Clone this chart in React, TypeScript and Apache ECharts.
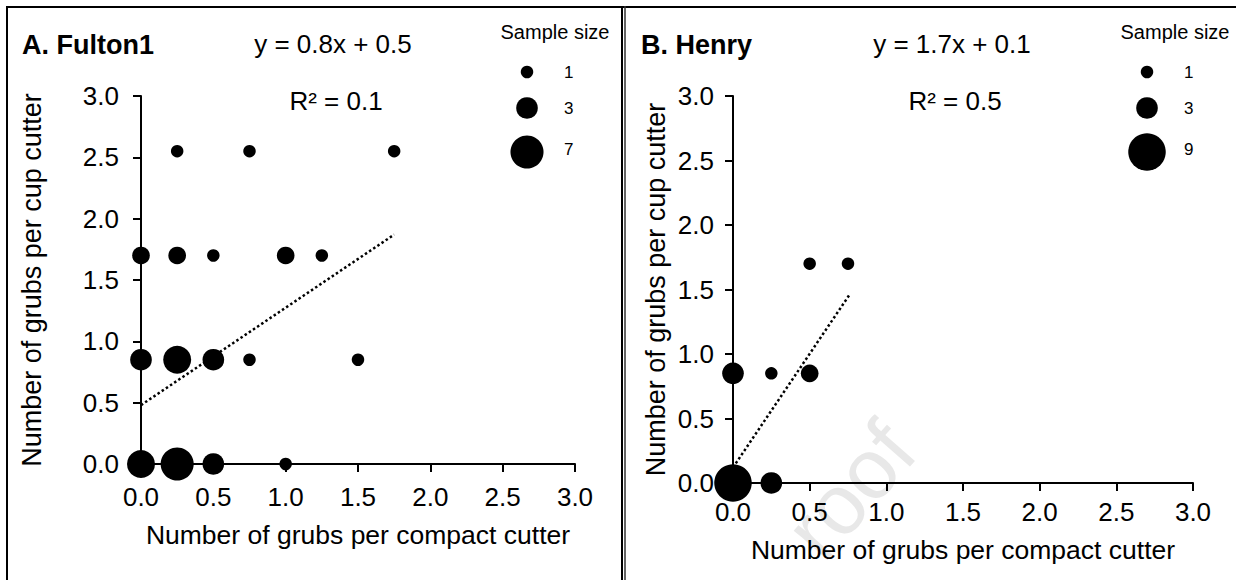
import React, { useEffect, useRef } from "react";
import * as echarts from "echarts";

// ---- data ----
const tickValues = [0, 0.5, 1, 1.5, 2, 2.5, 3];

const fultonX = [0.25, 0.75, 1.75, 0, 0.25, 0.5, 1.0, 1.25, 0, 0.25, 0.5, 0.75, 1.5, 0, 0.25, 0.5, 1.0];
const fultonY = [2.55, 2.55, 2.55, 1.7, 1.7, 1.7, 1.7, 1.7, 0.85, 0.85, 0.85, 0.85, 0.85, 0, 0, 0, 0];
const fultonN = [1, 1, 1, 2, 2, 1, 2, 1, 3, 5, 3, 1, 1, 5, 7, 3, 1];
const fultonTrend = [[0, 0.48], [1.75, 1.87]];
const fultonLegend = [1, 3, 7];

const henryX = [0.5, 0.75, 0, 0.25, 0.5, 0, 0.25];
const henryY = [1.7, 1.7, 0.85, 0.85, 0.85, 0, 0];
const henryN = [1, 1, 3, 1, 2, 9, 3];
const henryTrend = [[0, 0.12], [0.76, 1.46]];
const henryLegend = [1, 3, 9];

const panelTitles = ["A. Fulton1", "B. Henry"];
const equations = ["y = 0.8x + 0.5", "y = 1.7x + 0.1"];
const rSquared = ["R² = 0.1", "R² = 0.5"];
const xName = "Number of grubs per compact cutter";
const yName = "Number of grubs per cup cutter";
const watermark = "roof";

const FONT = "Liberation Sans, Arial, Helvetica, sans-serif";
const UNIT = 12.5;
const bubble = (n: number) => UNIT * Math.sqrt(n);

function zip(xs: number[], ys: number[], ns: number[]) {
  return xs.map((x, i) => [x, ys[i], ns[i]]);
}

function axisBase(gridIndex: number, nameSize: number) {
  return {
    gridIndex,
    type: "value",
    min: tickValues[0],
    max: tickValues[tickValues.length - 1],
    interval: 0.5,
    axisLine: { show: true, onZero: false, lineStyle: { color: "#000", width: 2 } },
    axisTick: { show: true, inside: false, length: 8, lineStyle: { color: "#000", width: 2 } },
    splitLine: { show: false },
    nameLocation: "middle",
    nameTextStyle: { color: "#000", fontSize: nameSize, fontFamily: FONT },
  };
}

export default function App() {
  const ref = useRef<HTMLDivElement>(null);
  useEffect(() => {
    if (!ref.current) return;
    const chart = echarts.init(ref.current, undefined, { renderer: "svg" });
    const fmt = (v: number) => v.toFixed(1);
    const lab = (margin: number) => ({ color: "#000", fontSize: 26, fontFamily: FONT, margin, formatter: fmt });

    const legendGraphics = (x0: number, sizes: number[]) => {
      const ys = [72, 108, 152];
      const out: any[] = [
        {
          type: "text",
          x: x0 + 28,
          y: 32,
          style: { text: "Sample size", font: `20px ${FONT}`, fill: "#000", align: "center", verticalAlign: "middle", textAlign: "center", textVerticalAlign: "middle" },
        },
      ];
      sizes.forEach((n, i) => {
        out.push({ type: "circle", shape: { cx: x0, cy: ys[i], r: bubble(n) / 2 }, style: { fill: "#000" } });
        out.push({
          type: "text",
          x: x0 + 37,
          y: ys[i] - (i === 2 ? 3 : 0),
          style: { text: String(n), font: `17px ${FONT}`, fill: "#000", align: "left", verticalAlign: "middle", textAlign: "left", textVerticalAlign: "middle" },
        });
      });
      return out;
    };

    const txt = (x: number, y: number, text: string, font: string, align = "center") => ({
      type: "text",
      x,
      y,
      style: { text, font, fill: "#000", align, verticalAlign: "middle", textAlign: align, textVerticalAlign: "middle" },
    });

    const option: any = {
      animation: false,
      backgroundColor: "#fff",
      textStyle: { fontFamily: FONT },
      grid: [
        { left: 141, top: 96, width: 434, height: 368 },
        { left: 733, top: 96, width: 460, height: 387 },
      ],
      xAxis: [
        { ...axisBase(0, 26.5), name: xName, nameGap: 57, axisLabel: lab(20) },
        { ...axisBase(1, 26.5), name: xName, nameGap: 53, axisLabel: lab(16) },
      ],
      yAxis: [
        { ...axisBase(0, 27), name: yName, nameGap: 96, axisLabel: lab(22) },
        { ...axisBase(1, 27), name: yName, nameGap: 64, axisLabel: lab(19) },
      ],
      series: [
        {
          type: "line",
          xAxisIndex: 0,
          yAxisIndex: 0,
          data: fultonTrend,
          showSymbol: false,
          symbol: "none",
          z: 1,
          lineStyle: { color: "#000", width: 2.5, type: [2.5, 2.5] },
        },
        {
          type: "line",
          xAxisIndex: 1,
          yAxisIndex: 1,
          data: henryTrend,
          showSymbol: false,
          symbol: "none",
          z: 1,
          lineStyle: { color: "#000", width: 2.5, type: [2.5, 2.5] },
        },
        {
          type: "scatter",
          xAxisIndex: 0,
          yAxisIndex: 0,
          data: zip(fultonX, fultonY, fultonN),
          symbolSize: (v: number[]) => bubble(v[2]),
          itemStyle: { color: "#000", opacity: 1 },
          clip: false,
          z: 3,
        },
        {
          type: "scatter",
          xAxisIndex: 1,
          yAxisIndex: 1,
          data: zip(henryX, henryY, henryN),
          symbolSize: (v: number[]) => bubble(v[2]),
          itemStyle: { color: "#000", opacity: 1 },
          clip: false,
          z: 3,
        },
      ],
      graphic: [
        {
          type: "text",
          x: 850,
          y: 490,
          rotation: 0.85,
          z: -10,
          style: { text: watermark, font: `85px ${FONT}`, fill: "#e8e8e8", align: "center", verticalAlign: "middle", textAlign: "center", textVerticalAlign: "middle" },
        },
        { type: "line", shape: { x1: 6, y1: 7, x2: 1236, y2: 7 }, style: { stroke: "#000", lineWidth: 2 } },
        { type: "line", shape: { x1: 7, y1: 6, x2: 7, y2: 580 }, style: { stroke: "#000", lineWidth: 2 } },
        { type: "line", shape: { x1: 622, y1: 6, x2: 622, y2: 580 }, style: { stroke: "#000", lineWidth: 2 } },
        { type: "line", shape: { x1: 625, y1: 6, x2: 625, y2: 580 }, style: { stroke: "#333", lineWidth: 1.5 } },
        txt(22, 45, panelTitles[0], `bold 27px ${FONT}`, "left"),
        txt(333, 44, equations[0], `26px ${FONT}`),
        txt(336, 101, rSquared[0], `26px ${FONT}`),
        txt(641, 45, panelTitles[1], `bold 27px ${FONT}`, "left"),
        txt(952, 44, equations[1], `26px ${FONT}`),
        txt(955, 101, rSquared[1], `26px ${FONT}`),
        ...legendGraphics(527, fultonLegend),
        ...legendGraphics(1147, henryLegend),
      ],
    };
    chart.setOption(option);
    return () => chart.dispose();
  }, []);
  return (
    <div
      ref={ref}
      style={{ position: "absolute", left: 0, top: 0, width: 1236, height: 580, background: "#fff" }}
    />
  );
}
